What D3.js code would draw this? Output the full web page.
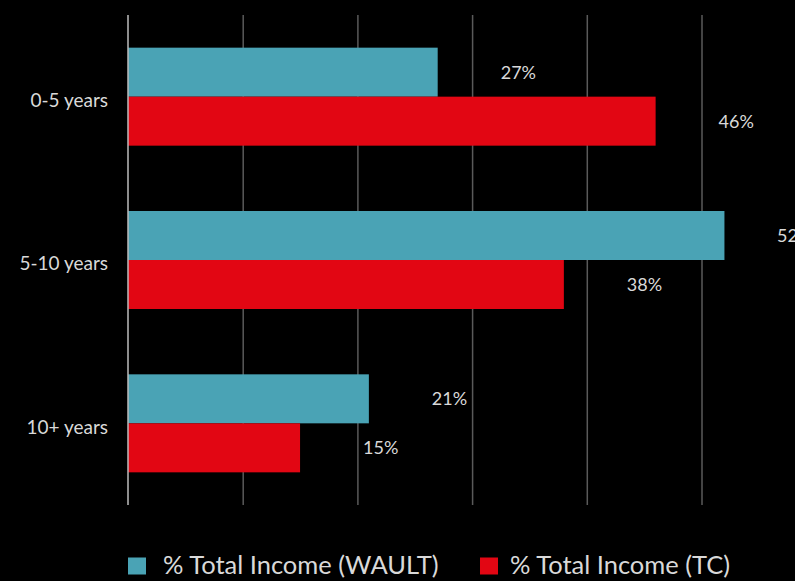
<!DOCTYPE html>
<html>
<head>
<meta charset="utf-8">
<script src="https://cdn.jsdelivr.net/npm/d3@7"></script>
<style>
  html, body { margin: 0; padding: 0; background: #000; }
  svg { display: block; }
  text { font-family: Lato, "Open Sans", sans-serif; fill: #d9d9d9; }
</style>
</head>
<body>
<svg id="chart" width="795" height="581"></svg>
<script>
// Lease expiry buckets and the share of income in each
const categories = ["0-5 years", "5-10 years", "10+ years"];
const seriesNames = ["% Total Income (WAULT)", "% Total Income (TC)"];
const waultValues = [27, 52, 21];
const tcValues = [46, 38, 15];
const gridTicks = [0, 10, 20, 30, 40, 50, 60];
const seriesColors = ["#4aa3b5", "#e20613"];

const svg = d3.select("#chart");
const width = 795;
const plotTop = 15, plotBottom = 505, plotLeft = 128;

const x = d3.scaleLinear().domain([0, 60]).range([plotLeft, plotLeft + 11.47 * 60]);
const y = d3.scaleBand().domain(categories).range([plotTop, plotBottom]).paddingInner(0.4).paddingOuter(0.2);
const inner = d3.scaleBand().domain(seriesNames).range([0, y.bandwidth()]);

// vertical gridlines
svg.append("g")
  .selectAll("line")
  .data(gridTicks.slice(1))
  .join("line")
  .attr("x1", d => x(d) + 0.5).attr("x2", d => x(d) + 0.5)
  .attr("y1", plotTop).attr("y2", plotBottom)
  .attr("stroke", "#5a5a5a").attr("stroke-width", 1.5);

const rows = categories.map((c, i) => ({ cat: c, vals: [waultValues[i], tcValues[i]] }));

const groups = svg.append("g")
  .selectAll("g")
  .data(rows)
  .join("g")
  .attr("transform", d => `translate(0,${y(d.cat)})`);

groups.selectAll("rect")
  .data(d => d.vals.map((v, j) => ({ v, s: seriesNames[j], j })))
  .join("rect")
  .attr("x", x(0))
  .attr("y", d => inner(d.s))
  .attr("width", d => x(d.v) - x(0))
  .attr("height", inner.bandwidth())
  .attr("fill", d => seriesColors[d.j]);

// value labels sit a fixed gap past each bar end, kept so the number stays in frame
groups.selectAll("text.val")
  .data(d => d.vals.map((v, j) => ({ v, s: seriesNames[j], j })))
  .join("text")
  .attr("class", "val")
  .attr("x", d => Math.min(x(d.v) + 63, width - 18))
  .attr("y", d => inner(d.s) + inner.bandwidth() / 2)
  .attr("dy", "0.36em")
  .attr("font-size", 18)
  .text(d => d.v + "%");

// category axis on the left
const yAxis = svg.append("g")
  .attr("transform", `translate(${plotLeft},0)`)
  .call(d3.axisLeft(y).tickSize(0).tickPadding(20));
yAxis.select(".domain").remove();
yAxis.selectAll("text")
  .attr("font-size", 19)
  .attr("fill", "#d9d9d9")
  .attr("font-family", "Lato, 'Open Sans', sans-serif")
  .attr("dy", "0.55em");

// baseline at zero
svg.append("line")
  .attr("x1", x(0)).attr("x2", x(0))
  .attr("y1", plotTop).attr("y2", plotBottom)
  .attr("stroke", "#bdbdbd").attr("stroke-width", 1.5);

// legend
const legendX = [128, 480];
const legendGap = [35, 30];
const legend = svg.append("g")
  .selectAll("g")
  .data(seriesNames)
  .join("g")
  .attr("transform", (d, i) => `translate(${legendX[i]},557.5)`);
legend.append("rect")
  .attr("width", 18).attr("height", 17)
  .attr("fill", (d, i) => seriesColors[i]);
legend.append("text")
  .attr("x", (d, i) => legendGap[i]).attr("y", 16.8)
  .attr("font-size", 25.5)
  .text(d => d);
</script>
</body>
</html>
